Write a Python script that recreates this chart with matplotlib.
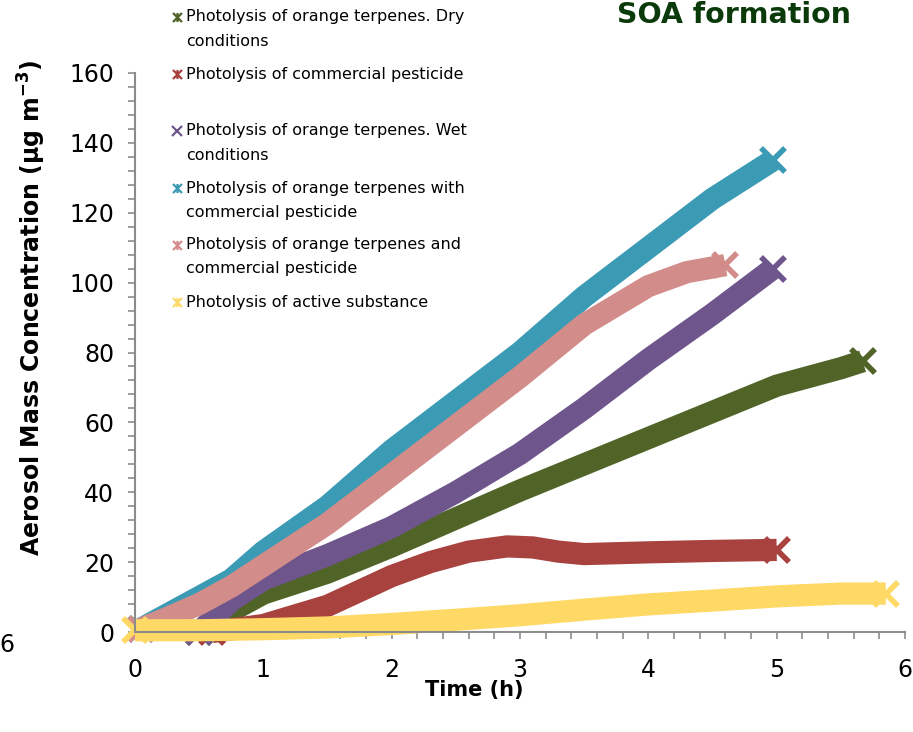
import matplotlib
matplotlib.use('Agg')
import matplotlib.pyplot as plt
from matplotlib.path import Path
from matplotlib.lines import Line2D
from matplotlib.ticker import MultipleLocator

## values (time in h, concentration in ug m-3)
green_t = [0.5, 0.75, 1.0, 1.5, 2.0, 2.5, 3.0, 3.5, 4.0, 4.5, 5.0, 5.5, 5.67]
green_v = [0, 6, 11, 17, 24.5, 32.5, 40.5, 48, 55.5, 63, 70.5, 75.5, 77.5]

red_t = [0.6, 1.0, 1.5, 2.0, 2.3, 2.6, 2.9, 3.1, 3.3, 3.5, 4.0, 4.5, 5.0]
red_v = [0, 2, 7.5, 16, 20, 23, 24.5, 24.2, 23, 22.3, 22.8, 23.2, 23.5]

purple_t = [0.5, 0.75, 1.0, 1.5, 2.0, 2.5, 3.0, 3.5, 4.0, 4.5, 4.97]
purple_v = [0, 9, 15, 22, 30, 40, 51, 64, 78, 91, 104]

cyan_t = [0.05, 0.25, 0.5, 0.75, 1.0, 1.5, 2.0, 2.5, 3.0, 3.5, 4.0, 4.5, 4.97]
cyan_v = [1, 5, 10, 15, 23, 36, 52, 66, 80, 96, 110, 124, 135]

pink_t = [0.05, 0.25, 0.5, 0.75, 1.0, 1.5, 2.0, 2.5, 3.0, 3.5, 4.0, 4.3, 4.6]
pink_v = [1, 4, 8, 13, 19, 31, 45, 59, 73, 88, 99, 103, 105]

yellow_t = [0, 0.5, 1.0, 1.5, 2.0, 2.5, 3.0, 3.5, 4.0, 4.5, 5.0, 5.5, 5.85]
yellow_v = [0.5, 0.5, 0.8, 1.3, 2.3, 3.5, 4.8, 6.4, 7.9, 9.0, 10.2, 11, 11]

labels = ['Photolysis of orange terpenes. Dry\nconditions',
          'Photolysis of commercial pesticide',
          'Photolysis of orange terpenes. Wet\nconditions',
          'Photolysis of orange terpenes with\ncommercial pesticide',
          'Photolysis of orange terpenes and\ncommercial pesticide',
          'Photolysis of active substance']
colors = ['#506428', '#A8423F', '#6E558C', '#3C9BB4', '#D28C8A', '#FFD966']

## excel style markers: star (x with a bar) and plain x
star = Path([(-1, -1), (1, 1), (-1, 1), (1, -1), (0, -1), (0, 1)],
            [Path.MOVETO, Path.LINETO, Path.MOVETO, Path.LINETO, Path.MOVETO, Path.LINETO])
markers = [star, star, 'x', star, star, star]

series = [(green_t, green_v), (red_t, red_v), (purple_t, purple_v),
          (cyan_t, cyan_v), (pink_t, pink_v), (yellow_t, yellow_v)]

fig = plt.figure(figsize=(9.13, 7.32), dpi=100)
ax = fig.add_axes([135/913, 1-632/732, 770/913, 559/732])

## dense marker bands: thick line, big x at both ends gives the notched tips
for (t, v), c in zip(series, colors):
    ax.plot(t, v, color=c, lw=16, solid_capstyle='butt', solid_joinstyle='round',
            marker='x', ms=17, mew=4, markevery=[0, len(t)-1], clip_on=False)

ax.set_xlim(0, 6)
ax.set_ylim(0, 160)
ax.xaxis.set_major_locator(MultipleLocator(1))
ax.xaxis.set_minor_locator(MultipleLocator(0.2))
ax.yaxis.set_major_locator(MultipleLocator(20))
ax.yaxis.set_minor_locator(MultipleLocator(4))
for s in ['top', 'right']:
    ax.spines[s].set_visible(False)
for s in ['left', 'bottom']:
    ax.spines[s].set_color('#8c8c8c')
    ax.spines[s].set_linewidth(1.5)
ax.tick_params(which='both', direction='out', color='#8c8c8c', width=1.2, length=5)
ax.tick_params(axis='x', which='major', labelsize=17, pad=14)
ax.tick_params(axis='y', which='major', labelsize=17, pad=10)

## axis titles and chart title
fig.text(32/913, 1-308/732, r'Aerosol Mass Concentration (μg m$^{\mathbf{-3}}$)',
         rotation=90, ha='center', va='center', fontsize=17, fontweight='bold')
fig.text(474/913, 1-690/732, 'Time (h)', ha='center', va='center',
         fontsize=15, fontweight='bold')
fig.text(617/913, 1-23/732, 'SOA formation', ha='left', va='baseline',
         fontsize=20.5, fontweight='bold', color='#0a3a0a')
## piece of the neighbouring chart at the left edge
fig.text(7/913, 1-645/732, '6', ha='center', va='center', fontsize=17)

## legend drawn as in the original (marker beside the first line)
for i, (lab, c, m) in enumerate(zip(labels, colors, markers)):
    y0 = 17 + 57*i
    fig.add_artist(Line2D([177/913], [1-y0/732], transform=fig.transFigure,
                          marker=m, ms=6.5, mew=1.6, color=c, linestyle='none'))
    for j, line in enumerate(lab.split('\n')):
        fig.text(186/913, 1-(y0 + 24*j)/732, line, ha='left', va='center', fontsize=11.5)

plt.savefig('out.png', dpi=100)
